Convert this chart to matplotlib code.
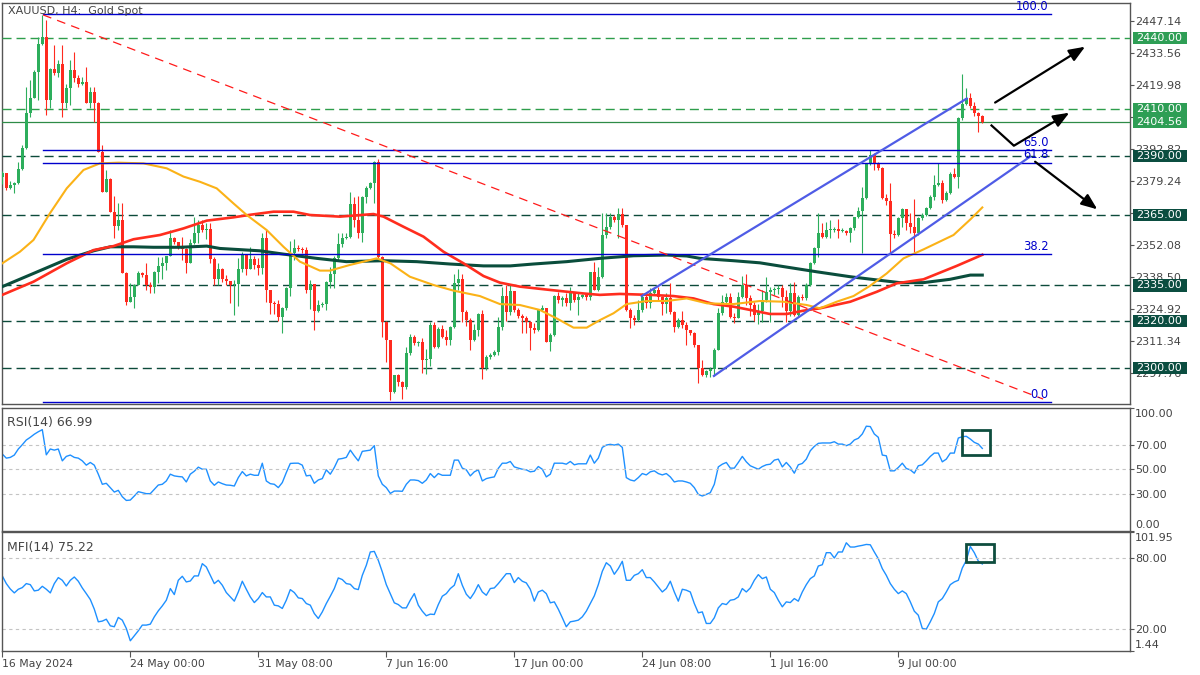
import matplotlib
matplotlib.use('Agg')
import matplotlib.pyplot as plt
import matplotlib.patches as patches
import matplotlib.transforms as mtransforms
import numpy as np

# XAUUSD H4 bars (opens = previous close)
first_open = 2381.0
close = [
    2382.6, 2376.3, 2377.5, 2378.5, 2384.5, 2393.5, 2408.0, 2414.4, 2425.7, 2437.5,
    2440.5, 2413.7, 2426.7, 2425.0, 2429.0, 2412.3, 2418.6, 2426.4, 2422.9, 2420.5,
    2421.5, 2412.6, 2417.2, 2412.3, 2391.8, 2374.8, 2380.0, 2366.3, 2360.2, 2362.8,
    2340.1, 2328.1, 2330.2, 2335.0, 2340.4, 2339.4, 2335.2, 2334.5, 2340.8, 2343.4,
    2344.6, 2347.5, 2355.0, 2353.6, 2351.4, 2350.3, 2344.6, 2353.1, 2357.1, 2360.6,
    2358.5, 2358.8, 2346.1, 2337.6, 2341.8, 2337.6, 2337.0, 2335.2, 2335.5, 2341.8,
    2348.3, 2342.0, 2346.1, 2343.7, 2342.5, 2355.0, 2333.0, 2327.4, 2327.0, 2321.8,
    2325.3, 2334.0, 2348.6, 2350.7, 2350.3, 2350.0, 2333.0, 2335.5, 2324.0, 2326.7,
    2327.0, 2336.5, 2340.0, 2346.5, 2352.5, 2355.0, 2355.4, 2369.5, 2362.8, 2357.1,
    2372.7, 2376.2, 2378.6, 2387.5, 2347.0, 2319.6, 2311.8, 2289.9, 2296.9, 2294.0,
    2292.0, 2306.2, 2313.3, 2310.4, 2311.0, 2303.4, 2304.0, 2318.2, 2309.0, 2316.4,
    2313.3, 2312.0, 2317.5, 2335.9, 2337.6, 2323.9, 2320.5, 2311.9, 2316.0, 2323.0,
    2299.8, 2304.8, 2305.5, 2306.6, 2317.5, 2330.5, 2323.9, 2332.8, 2324.5, 2322.0,
    2321.0, 2319.6, 2316.8, 2316.0, 2324.6, 2325.3, 2311.2, 2314.0, 2330.5, 2328.8,
    2329.7, 2327.4, 2331.6, 2328.8, 2330.0, 2330.8, 2330.0, 2340.8, 2333.1, 2338.7,
    2356.4, 2359.9, 2364.2, 2362.8, 2365.3, 2360.6, 2324.6, 2321.1, 2320.3, 2324.6,
    2330.2, 2327.4, 2332.0, 2333.0, 2330.0, 2327.0, 2329.5, 2323.9, 2317.5, 2320.3,
    2318.2, 2316.0, 2315.0, 2309.7, 2299.8, 2297.0, 2298.5, 2299.5, 2307.6, 2323.2,
    2328.1, 2330.2, 2321.8, 2321.0, 2330.2, 2335.2, 2329.5, 2326.7, 2322.5, 2324.0,
    2328.8, 2332.3, 2333.1, 2333.5, 2334.0, 2330.0, 2324.1, 2331.6, 2322.5, 2330.2,
    2329.5, 2335.2, 2344.6, 2350.7, 2357.1, 2355.7, 2358.5, 2358.7, 2358.8, 2358.1,
    2358.3, 2357.1, 2359.2, 2364.0, 2366.8, 2372.0, 2386.8, 2390.3, 2386.8, 2384.7,
    2372.0, 2371.0, 2357.0, 2356.4, 2363.5, 2367.3, 2361.6, 2359.9, 2357.1, 2363.5,
    2365.0, 2367.8, 2372.7, 2377.6, 2378.3, 2371.3, 2374.1, 2382.3, 2381.2, 2405.9,
    2412.0, 2414.4, 2411.2, 2408.3, 2407.0, 2404.56]
high = [
    2383.5, 2382.8, 2379.5, 2379.0, 2387.5, 2394.5, 2419.0, 2422.0, 2426.5, 2440.6,
    2449.8, 2447.6, 2427.1, 2437.0, 2430.7, 2437.0, 2420.6, 2430.7, 2434.2, 2424.3,
    2423.5, 2427.8, 2419.1, 2419.0, 2413.0, 2394.6, 2384.0, 2380.4, 2373.0, 2369.8,
    2369.8, 2340.8, 2336.0, 2335.5, 2341.0, 2340.8, 2344.4, 2336.6, 2341.0, 2347.2,
    2347.2, 2347.5, 2358.5, 2355.5, 2353.5, 2355.7, 2350.7, 2354.6, 2364.2, 2362.8,
    2362.8, 2361.4, 2361.4, 2347.2, 2344.4, 2342.5, 2339.4, 2337.0, 2337.3, 2346.8,
    2349.0, 2348.3, 2351.4, 2347.5, 2346.5, 2357.1, 2359.0, 2333.0, 2328.5, 2328.8,
    2326.0, 2334.5, 2354.0, 2354.6, 2352.0, 2351.5, 2351.4, 2337.5, 2335.5, 2328.8,
    2328.0, 2337.0, 2343.0, 2347.5, 2357.1, 2357.1, 2357.1, 2374.8, 2372.7, 2373.0,
    2373.0, 2377.0, 2379.0, 2388.0, 2388.5, 2347.5, 2320.0, 2311.8, 2297.0, 2297.5,
    2294.5, 2309.0, 2314.5, 2314.0, 2311.5, 2312.6, 2308.0, 2319.6, 2319.6, 2317.5,
    2318.2, 2316.0, 2318.0, 2340.0, 2341.8, 2340.0, 2324.5, 2321.0, 2318.5, 2323.5,
    2324.5, 2305.5, 2306.5, 2307.5, 2321.8, 2334.5, 2335.2, 2335.2, 2332.8, 2325.5,
    2323.0, 2322.0, 2320.0, 2319.0, 2325.0, 2326.7, 2325.3, 2315.0, 2331.0, 2332.3,
    2330.5, 2331.6, 2334.5, 2331.5, 2331.6, 2331.5, 2331.2, 2340.8, 2345.1, 2343.0,
    2365.6, 2365.6, 2365.6, 2364.9, 2368.0, 2368.0, 2360.6, 2325.3, 2322.5, 2328.8,
    2331.6, 2331.6, 2333.8, 2334.0, 2334.5, 2330.5, 2331.6, 2335.9, 2324.0, 2321.0,
    2324.0, 2319.6, 2316.0, 2315.2, 2309.7, 2303.4, 2299.0, 2300.5, 2308.3, 2325.3,
    2331.0, 2331.6, 2331.6, 2323.2, 2332.3, 2339.0, 2339.9, 2331.0, 2328.0, 2327.0,
    2333.0, 2338.7, 2334.5, 2334.5, 2335.0, 2335.2, 2333.0, 2336.0, 2336.6, 2331.0,
    2331.5, 2335.9, 2345.1, 2351.4, 2365.6, 2361.4, 2362.1, 2362.8, 2360.0, 2363.1,
    2359.5, 2358.5, 2360.0, 2364.2, 2368.4, 2376.9, 2386.8, 2392.5, 2391.1, 2387.5,
    2385.4, 2374.0, 2378.3, 2358.5, 2363.9, 2368.0, 2367.3, 2365.6, 2371.5, 2364.2,
    2365.6, 2368.5, 2373.3, 2381.9, 2386.8, 2379.7, 2375.0, 2383.0, 2384.7, 2406.6,
    2424.7, 2418.6, 2416.5, 2413.0, 2408.5, 2407.5]
low = [
    2378.0, 2375.5, 2376.0, 2374.1, 2378.0, 2384.0, 2393.0, 2406.5, 2417.0, 2413.7,
    2437.0, 2407.3, 2410.2, 2424.3, 2423.5, 2406.3, 2410.2, 2411.5, 2421.5, 2419.1,
    2420.0, 2412.3, 2410.2, 2404.5, 2391.8, 2374.8, 2374.5, 2366.3, 2355.0, 2358.5,
    2340.1, 2326.7, 2328.0, 2325.3, 2335.2, 2338.5, 2333.0, 2331.6, 2331.6, 2335.9,
    2337.6, 2341.5, 2347.5, 2352.5, 2350.5, 2345.8, 2340.4, 2344.6, 2352.5, 2352.9,
    2357.5, 2354.6, 2344.6, 2335.2, 2335.2, 2336.5, 2335.2, 2327.4, 2322.5, 2326.3,
    2340.8, 2339.4, 2341.8, 2342.0, 2339.4, 2340.0, 2328.0, 2323.0, 2323.0, 2320.0,
    2315.0, 2324.5, 2330.5, 2345.8, 2349.5, 2348.6, 2331.6, 2325.0, 2316.0, 2323.9,
    2326.0, 2324.5, 2334.0, 2334.0, 2345.5, 2351.4, 2354.5, 2355.0, 2360.0, 2355.0,
    2353.6, 2369.8, 2376.0, 2369.8, 2345.8, 2313.0, 2302.6, 2286.6, 2289.5, 2292.5,
    2287.0, 2291.0, 2305.5, 2309.7, 2309.5, 2298.0, 2297.5, 2301.0, 2308.3, 2308.3,
    2312.6, 2309.7, 2309.7, 2316.8, 2333.1, 2319.6, 2317.6, 2307.6, 2311.5, 2313.6,
    2295.5, 2299.0, 2304.0, 2305.0, 2305.5, 2316.0, 2320.0, 2322.5, 2323.9, 2321.0,
    2314.7, 2314.7, 2307.6, 2315.0, 2315.5, 2324.0, 2311.2, 2307.0, 2313.5, 2327.4,
    2326.3, 2326.3, 2324.6, 2328.0, 2322.5, 2329.5, 2329.0, 2329.0, 2333.1, 2332.5,
    2338.0, 2355.0, 2359.0, 2362.0, 2355.0, 2360.0, 2324.0, 2316.8, 2318.2, 2320.0,
    2323.9, 2325.3, 2325.3, 2331.0, 2328.8, 2322.5, 2323.2, 2323.0, 2315.3, 2317.0,
    2317.0, 2309.7, 2314.0, 2309.0, 2293.4, 2296.6, 2296.0, 2296.0, 2296.6, 2307.6,
    2322.5, 2327.4, 2321.0, 2318.9, 2321.0, 2329.5, 2326.7, 2322.0, 2320.0, 2318.5,
    2319.6, 2328.0, 2319.6, 2330.8, 2331.5, 2326.0, 2319.6, 2322.0, 2322.0, 2322.0,
    2328.8, 2329.0, 2334.8, 2344.0, 2347.2, 2355.0, 2355.0, 2355.0, 2357.5, 2355.0,
    2357.5, 2356.5, 2353.6, 2358.5, 2363.5, 2348.6, 2371.5, 2386.0, 2384.0, 2384.0,
    2371.5, 2369.0, 2348.6, 2355.0, 2356.0, 2360.0, 2358.5, 2357.1, 2349.3, 2356.5,
    2362.8, 2364.5, 2367.5, 2371.3, 2377.0, 2369.8, 2371.0, 2374.0, 2380.5, 2376.2,
    2405.0, 2411.5, 2410.5, 2407.0, 2400.2, 2404.0]

rsi = [
    62.4, 59.1, 59.7, 61.6, 66.5, 70.0, 73.8, 76.0, 78.5, 80.5,
    82.2, 61.8, 66.5, 65.6, 66.5, 56.9, 60.5, 61.6, 59.7, 59.1,
    56.9, 53.4, 55.6, 53.4, 46.1, 37.9, 38.7, 35.2, 31.6, 33.0,
    27.8, 24.8, 25.1, 28.4, 31.9, 31.1, 30.3, 30.3, 33.8, 37.3,
    37.9, 40.6, 46.1, 44.7, 44.2, 43.9, 39.8, 46.1, 48.5, 51.8,
    50.1, 50.1, 40.6, 37.1, 39.8, 38.4, 37.3, 37.1, 36.5, 43.3,
    48.2, 44.7, 46.1, 45.2, 45.2, 55.0, 40.6, 38.4, 37.9, 35.2,
    39.3, 47.4, 54.8, 55.0, 55.0, 53.4, 44.7, 45.2, 38.7, 41.4,
    42.5, 49.6, 46.1, 51.5, 58.3, 58.8, 59.7, 65.6, 61.0, 56.9,
    64.6, 65.1, 65.6, 69.2, 44.7, 37.9, 35.2, 30.5, 32.4, 32.4,
    32.2, 37.9, 41.4, 41.4, 40.9, 38.7, 41.4, 46.6, 43.3, 46.6,
    45.2, 45.2, 45.2, 57.5, 57.5, 51.0, 49.6, 44.7, 48.0, 49.6,
    40.6, 42.5, 43.3, 43.9, 50.8, 55.0, 55.0, 56.4, 52.0, 51.0,
    50.1, 49.6, 48.0, 48.5, 52.3, 50.1, 43.9, 46.1, 55.0, 55.0,
    55.0, 54.2, 56.4, 53.7, 54.5, 54.5, 54.5, 61.6, 55.0, 59.1,
    67.8, 69.7, 70.3, 69.7, 70.5, 67.8, 43.3, 41.4, 40.6, 43.3,
    46.6, 45.5, 48.0, 48.8, 46.6, 45.5, 46.6, 43.9, 39.8, 40.6,
    40.6, 39.8, 38.7, 35.2, 29.7, 28.4, 29.7, 31.1, 37.9, 52.0,
    54.2, 55.6, 51.0, 51.0, 55.6, 60.5, 56.1, 52.9, 51.5, 50.1,
    52.3, 53.7, 54.2, 57.5, 58.3, 52.0, 55.6, 52.0, 46.9, 53.7,
    54.8, 58.3, 65.1, 68.6, 71.1, 71.4, 71.4, 71.4, 72.4, 70.5,
    70.5, 69.2, 70.5, 73.8, 75.2, 78.7, 85.0, 84.7, 78.7, 76.0,
    61.6, 61.0, 48.8, 48.8, 51.5, 55.0, 50.7, 49.6, 46.9, 52.9,
    53.7, 56.9, 60.5, 63.2, 63.2, 56.1, 58.3, 63.2, 63.2, 75.4,
    76.5, 76.8, 74.6, 71.9, 70.5, 66.99]
mfi = [
    65.1, 58.6, 54.0, 50.7, 53.8, 55.2, 58.6, 57.7, 52.4, 53.0,
    56.3, 53.8, 50.7, 58.6, 63.7, 61.4, 56.6, 61.4, 64.2, 60.6,
    54.9, 50.1, 45.1, 36.9, 26.2, 26.8, 28.4, 22.8, 22.0, 29.9,
    27.6, 20.6, 10.1, 14.4, 18.6, 23.4, 23.4, 24.2, 30.4, 35.5,
    39.7, 44.5, 54.4, 49.3, 61.4, 64.8, 60.0, 60.8, 65.1, 65.1,
    75.5, 72.7, 65.6, 58.6, 61.4, 57.2, 51.0, 47.3, 43.7, 51.5,
    60.6, 53.8, 47.3, 42.5, 45.9, 51.0, 47.3, 47.3, 40.3, 39.7,
    37.5, 44.5, 53.5, 51.0, 46.5, 45.9, 41.7, 40.3, 33.2, 29.0,
    34.6, 41.7, 47.9, 54.4, 63.4, 62.0, 58.6, 58.0, 54.4, 53.5,
    65.6, 74.1, 85.4, 85.9, 78.3, 68.5, 57.7, 50.1, 42.3, 40.8,
    38.0, 38.0, 44.5, 50.1, 40.3, 35.2, 31.3, 32.7, 32.4, 40.8,
    47.9, 50.1, 54.4, 57.2, 67.0, 57.2, 49.6, 45.9, 51.0, 57.7,
    51.5, 48.7, 54.4, 54.9, 58.6, 62.8, 67.0, 67.0, 59.4, 63.7,
    60.6, 59.2, 53.8, 43.7, 51.5, 53.0, 50.1, 42.3, 43.1, 36.9,
    29.6, 22.0, 26.2, 26.8, 27.6, 30.4, 35.2, 41.7, 48.2, 57.7,
    69.0, 76.3, 73.5, 66.5, 71.3, 77.5, 61.4, 61.4, 65.6, 67.0,
    70.4, 63.7, 63.7, 60.0, 55.8, 51.5, 54.4, 60.6, 51.5, 43.7,
    53.8, 53.0, 51.5, 41.7, 33.8, 34.6, 24.8, 24.8, 29.6, 38.0,
    41.7, 40.8, 44.5, 45.1, 47.3, 54.4, 51.5, 54.9, 61.4, 66.2,
    62.8, 64.2, 53.8, 51.0, 44.5, 38.9, 43.1, 42.5, 45.9, 43.7,
    51.5, 57.7, 62.8, 65.1, 73.5, 74.6, 84.8, 84.8, 80.3, 85.4,
    85.4, 93.2, 89.6, 89.6, 90.4, 91.0, 91.8, 91.5, 85.4, 79.7,
    71.3, 65.6, 58.6, 53.8, 50.1, 52.4, 50.1, 43.1, 35.2, 31.8,
    20.6, 20.0, 26.2, 33.2, 43.1, 45.9, 51.5, 57.7, 60.0, 61.4,
    71.8, 78.3, 90.1, 84.8, 77.7, 75.22]

# moving averages, sampled along the drawn lines (bar index, price)
ma_orange_x = [0, 4.4, 7.8, 11.9, 16.1, 20.3, 24.4, 29, 35.3, 41.1, 45.3, 49.4, 53.6, 57.8,
               61.1, 66.1, 70.3, 74.4, 79.4, 81.9, 86.9, 90.3, 93.6, 97, 101.9, 107.8, 112.8,
               119.4, 124.4, 129.4, 134.4, 138.6, 142.8, 146.1, 149.4, 152.8, 156.1, 161.1,
               166.1, 171.1, 176.2, 182.8, 189.4, 195.3, 201.1, 204.4, 208.6, 212.8, 216.9,
               221.1, 225.3, 230.3, 237.8, 242, 245]
ma_orange = [2344.4, 2349.3, 2354.3, 2365.6, 2376.2, 2384.0, 2386.8, 2387.1, 2386.8, 2384.7,
             2381.2, 2379.0, 2376.2, 2369.8, 2364.9, 2358.5, 2351.4, 2345.1, 2341.3, 2341.3,
             2343.7, 2345.1, 2346.5, 2344.4, 2338.7, 2335.2, 2332.8, 2330.5, 2327.1, 2326.7,
             2324.6, 2321.0, 2317.1, 2317.1, 2320.3, 2323.2, 2327.1, 2328.4, 2328.4, 2329.5,
             2327.4, 2327.1, 2328.4, 2328.1, 2326.7, 2325.3, 2328.1, 2330.5, 2334.8, 2340.1,
             2346.5, 2350.3, 2356.4, 2363.0, 2368.1]
ma_red_x = [0, 7.8, 16.1, 22.8, 27.8, 32.8, 39.4, 45.3, 51.1, 57.8, 62, 67.8, 72.8, 76.9, 84.4,
            92.8, 95.3, 100.3, 105.3, 110.3, 115.3, 120.3, 124.4, 129.4, 136.9, 145.3, 149.4,
            154.4, 161.9, 167.8, 172.8, 177.8, 182.8, 187, 191.9, 196.1, 200.3, 204.4, 212,
            218.6, 223.6, 230.3, 238.6, 245]
ma_red = [2331.0, 2336.6, 2344.4, 2350.0, 2351.7, 2354.6, 2356.4, 2359.2, 2362.5, 2363.9,
          2365.0, 2366.3, 2366.3, 2364.9, 2364.2, 2365.3, 2364.2, 2359.9, 2355.7, 2349.3,
          2344.4, 2339.0, 2336.2, 2334.5, 2333.1, 2331.6, 2331.0, 2331.4, 2331.0, 2330.5,
          2329.5, 2327.1, 2326.0, 2324.6, 2322.9, 2322.9, 2324.3, 2325.3, 2328.1, 2332.3,
          2335.9, 2337.6, 2343.3, 2348.0]
ma_green_x = [0, 7.8, 16.1, 22.8, 27, 32.8, 37.8, 44.4, 51.1, 54.4, 64.4, 70.3, 78.6, 86, 95.3,
              103.6, 111.9, 120.3, 127, 132.8, 141.1, 149.4, 157.8, 166.1, 171.1, 174.4, 182.8,
              189.4, 195.3, 203.6, 212, 220.3, 224.4, 230.3, 236.9, 242, 245]
ma_green = [2334.5, 2340.1, 2346.1, 2349.7, 2351.4, 2351.4, 2351.2, 2351.2, 2351.7, 2350.7,
            2349.7, 2348.3, 2346.5, 2345.1, 2345.5, 2345.1, 2344.1, 2343.3, 2343.3, 2344.1,
            2345.1, 2346.5, 2347.6, 2347.9, 2347.5, 2346.5, 2345.5, 2344.6, 2343.0, 2340.8,
            2338.7, 2337.0, 2336.2, 2336.2, 2337.6, 2339.4, 2339.4]

time_ticks = [0, 32, 64, 96, 128, 160, 192, 224]
time_labels = ['16 May 2024', '24 May 00:00', '31 May 08:00', '7 Jun 16:00',
               '17 Jun 00:00', '24 Jun 08:00', '1 Jul 16:00', '9 Jul 00:00']
price_ticks = [2447.14, 2433.56, 2419.98, 2406.40, 2392.82, 2379.24, 2365.66,
               2352.08, 2338.50, 2324.92, 2311.34, 2297.76]
hidden_ticks = [2406.40, 2365.66]   # fully covered by the price tags in the screenshot
levels_light = [2440.0, 2410.0]
levels_dark = [2390.0, 2365.0, 2335.0, 2320.0, 2300.0]
last_price = 2404.56

fibo_levels = [0.0, 38.2, 61.8, 65.0, 100.0]
fibo_low, fibo_high = 2285.4, 2450.0
fibo_x = [10.2, 262.1]
trend_x, trend_y = [10.2, 260.2], [2449.8, 2286.8]
chan_up_x, chan_up_y = [159.85, 241.1], [2330.5, 2414.3]
chan_lo_x, chan_lo_y = [177.9, 256.9], [2296.6, 2389.6]

arrow_up = [(248.2, 2412.6), (270.7, 2436.3)]
arrow_mid = [(247.1, 2403.2), (252.9, 2394.3), (266.75, 2408.3)]
arrow_down = [(258.2, 2387.5), (273.75, 2367.3)]

rsi_box = (239.8, 61.9, 7.1, 20.3)
mfi_box = (240.9, 76.9, 7.0, 15.2)

GREEN = '#2DAE5C'
RED = '#FF2A1F'
FRAME = '#555555'
TXT = '#444444'
LIGHT_LVL = '#2E9E4C'
DARK_LVL = '#0C4A3A'
BOX_LIGHT = '#2E9E55'
BOX_DARK = '#0B4D40'

fig = plt.figure(figsize=(12, 6.75), dpi=100)
ax = fig.add_axes([0.00167, 0.4010, 0.94, 0.5950])
ax_rsi = fig.add_axes([0.00167, 0.2133, 0.94, 0.1827], sharex=ax)
ax_mfi = fig.add_axes([0.00167, 0.03556, 0.94, 0.1756], sharex=ax)

for a in (ax, ax_rsi, ax_mfi):
    for s in a.spines.values():
        s.set_color(FRAME)
        s.set_linewidth(1.0)
    a.yaxis.tick_right()
    a.tick_params(axis='y', direction='out', length=3, width=0.8, color=FRAME,
                  labelcolor=TXT, labelsize=8, pad=1)

# ---- candles ----
n = len(close)
idx = np.arange(n)
c = np.array(close)
o = np.array([first_open] + close[:-1])
hi = np.maximum(np.array(high), np.maximum(o, c))
lo = np.minimum(np.array(low), np.minimum(o, c))
cols = np.where(c >= o, GREEN, RED)
ax.vlines(idx, lo, hi, colors=cols, lw=0.8, zorder=4)
body_h = np.maximum(np.abs(c - o), 0.4)
ax.bar(idx, body_h, bottom=np.minimum(o, c), width=0.66, color=cols, lw=0, zorder=5)

# moving averages
ax.plot(ma_green_x, ma_green, color='#0A4D3C', lw=2.2, zorder=6)
ax.plot(ma_red_x, ma_red, color='#FF2D1E', lw=1.9, zorder=6)
ax.plot(ma_orange_x, ma_orange, color='#FBB217', lw=1.5, zorder=6)

# horizontal levels
for lv in levels_light:
    ax.axhline(lv, color=LIGHT_LVL, lw=1.0, dashes=(6.5, 3.6), zorder=3)
for lv in levels_dark:
    ax.axhline(lv, color=DARK_LVL, lw=1.0, dashes=(6.5, 3.6), zorder=3)
ax.axhline(last_price, color='#2E8B47', lw=0.9, zorder=3)

# fibonacci retracement
for lvl in fibo_levels:
    p = fibo_low + (fibo_high - fibo_low) * lvl / 100.0
    ax.plot(fibo_x, [p, p], color='#0000CC', lw=1.0, zorder=7)
    ax.text(fibo_x[1] - 0.6, p + 0.6, f'{lvl:.1f}', ha='right', va='bottom',
            color='#0000CC', fontsize=8.3, zorder=8)
ax.plot(trend_x, trend_y, color='#FF1A1A', lw=0.9, dashes=(7, 5), zorder=7)

# channel lines
ax.plot(chan_up_x, chan_up_y, color='#4F5CE6', lw=1.6, zorder=7)
ax.plot(chan_lo_x, chan_lo_y, color='#4F5CE6', lw=1.6, zorder=7)

# scenario arrows
aprops = dict(arrowstyle='-|>,head_length=0.8,head_width=0.32', color='black',
              lw=1.6, mutation_scale=12, shrinkA=0, shrinkB=0)
ax.annotate('', xy=arrow_up[1], xytext=arrow_up[0], arrowprops=aprops, zorder=9)
ax.plot([arrow_mid[0][0], arrow_mid[1][0]], [arrow_mid[0][1], arrow_mid[1][1]],
        color='black', lw=1.6, zorder=9, solid_capstyle='butt')
ax.annotate('', xy=arrow_mid[2], xytext=arrow_mid[1], arrowprops=aprops, zorder=9)
ax.annotate('', xy=arrow_down[1], xytext=arrow_down[0], arrowprops=aprops, zorder=9)

ax.set_xlim(-0.075, 281.925)
ax.set_ylim(2284.56, 2454.98)
ax.set_yticks(price_ticks)
ax.set_yticklabels(['' if t in hidden_ticks else f'{t:.2f}' for t in price_ticks])
ax.tick_params(axis='x', bottom=False, labelbottom=False)

# price tags on the right scale
trans = mtransforms.blended_transform_factory(ax.transAxes, ax.transData)
tags = [(lv, BOX_LIGHT) for lv in levels_light] + [(last_price, BOX_LIGHT)] + \
       [(lv, BOX_DARK) for lv in levels_dark]
for price, fc in tags:
    rect = patches.Rectangle((1.0027, price - 2.6), 0.0479, 5.2, transform=trans,
                             facecolor=fc, edgecolor='none', clip_on=False, zorder=10)
    ax.add_patch(rect)
    ax.text(1.0055, price, f'{price:.2f}', transform=trans, ha='left', va='center',
            color='white', fontsize=8, zorder=11, clip_on=False)

ax.text(0.0053, 0.992, 'XAUUSD, H4:  Gold Spot', transform=ax.transAxes, ha='left',
        va='top', fontsize=8, color=TXT, zorder=12)

# ---- RSI ----
ax_rsi.plot(idx, rsi, color='#1E90FF', lw=1.0)
for g in (70, 50, 30):
    ax_rsi.axhline(g, color='#C4C4C4', lw=0.8, dashes=(3, 3))
ax_rsi.set_ylim(0, 100)
ax_rsi.set_yticks([0, 30, 50, 70, 100])
ax_rsi.set_yticklabels(['', '30.00', '50.00', '70.00', ''])
rtr = mtransforms.blended_transform_factory(ax_rsi.transAxes, ax_rsi.transData)
ax_rsi.text(1.0045, 99.0, '100.00', transform=rtr, ha='left', va='top', fontsize=8, color=TXT)
ax_rsi.text(1.0045, 0.5, '0.00', transform=rtr, ha='left', va='bottom', fontsize=8, color=TXT)
ax_rsi.add_patch(patches.Rectangle(rsi_box[:2], rsi_box[2], rsi_box[3], fill=False,
                                   edgecolor='#0E4D3E', lw=2, zorder=5))
ax_rsi.text(0.004, 0.93, f'RSI(14) {rsi[-1]:.2f}', transform=ax_rsi.transAxes, ha='left',
            va='top', fontsize=9, color=TXT)
ax_rsi.tick_params(axis='x', bottom=False, labelbottom=False)

# ---- MFI ----
ax_mfi.plot(idx, mfi, color='#1E90FF', lw=1.0)
for g in (80, 20):
    ax_mfi.axhline(g, color='#C4C4C4', lw=0.8, dashes=(3, 3))
ax_mfi.set_ylim(1.44, 101.95)
ax_mfi.set_yticks([1.44, 20, 80, 101.95])
ax_mfi.set_yticklabels(['', '20.00', '80.00', ''])
mtr = mtransforms.blended_transform_factory(ax_mfi.transAxes, ax_mfi.transData)
ax_mfi.text(1.0045, 101.5, '101.95', transform=mtr, ha='left', va='top', fontsize=8, color=TXT)
ax_mfi.text(1.0045, 1.9, '1.44', transform=mtr, ha='left', va='bottom', fontsize=8, color=TXT)
ax_mfi.add_patch(patches.Rectangle(mfi_box[:2], mfi_box[2], mfi_box[3], fill=False,
                                   edgecolor='#0E4D3E', lw=2, zorder=5))
ax_mfi.text(0.004, 0.93, f'MFI(14) {mfi[-1]:.2f}', transform=ax_mfi.transAxes, ha='left',
            va='top', fontsize=9, color=TXT)

ax_mfi.set_xticks(time_ticks)
ax_mfi.set_xticklabels(time_labels)
for lab in ax_mfi.get_xticklabels():
    lab.set_ha('left')
ax_mfi.tick_params(axis='x', direction='out', length=4, width=0.8, color=FRAME,
                   labelcolor=TXT, labelsize=7.8, pad=2)

fig.savefig('out.png', dpi=100, facecolor='white')
